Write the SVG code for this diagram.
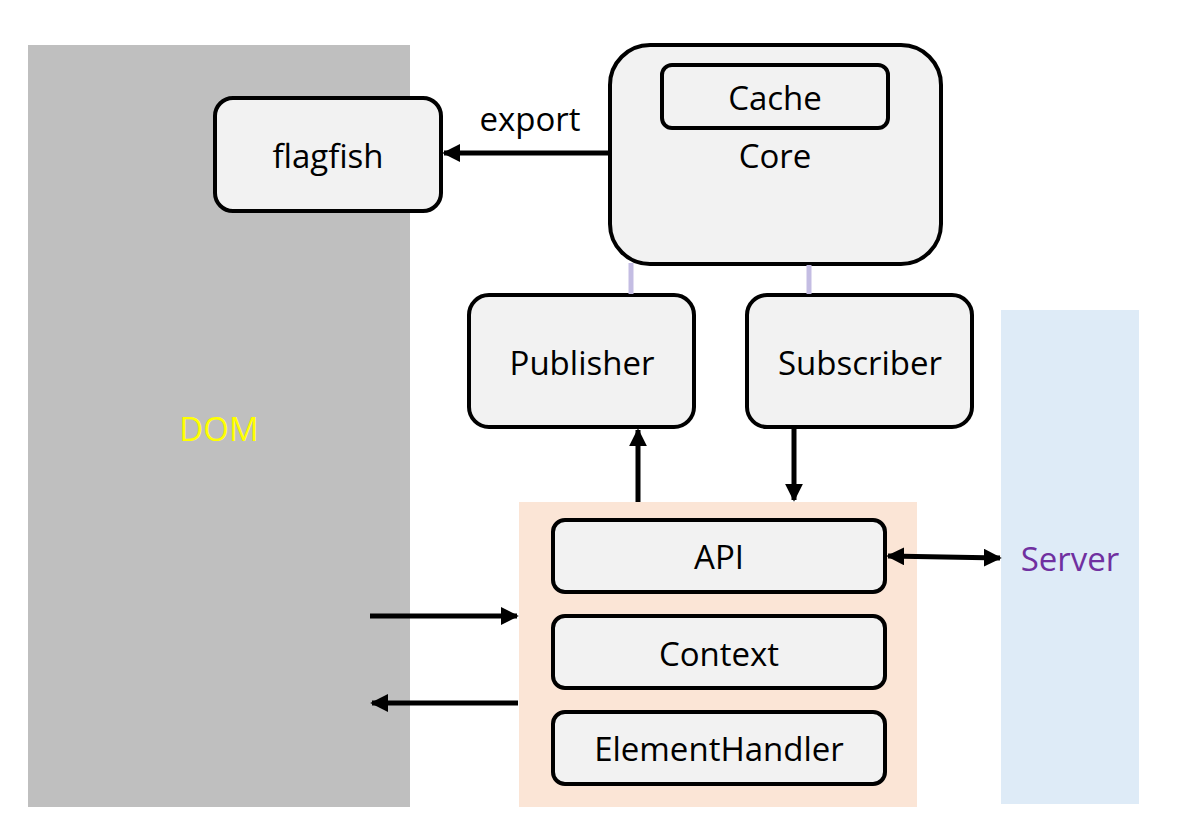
<svg xmlns="http://www.w3.org/2000/svg" width="1178" height="834" viewBox="0 0 1178 834">
<defs>
<style>
.box{fill:#f2f2f2;stroke:#000;stroke-width:4}
.t{font-family:"Open Sans","Noto Sans",sans-serif;font-size:33px;fill:#000;text-anchor:middle;dominant-baseline:central}
.c{stroke:#000;stroke-width:5;fill:none}
.lav{stroke:#c4bde3;stroke-width:5}
</style>
<marker id="ah" viewBox="0 0 10 10" refX="9" refY="5" markerWidth="3.6" markerHeight="3.6" orient="auto-start-reverse" markerUnits="strokeWidth">
<path d="M0,0 L10,5 L0,10 Z" fill="#000"/>
</marker>
</defs>
<rect width="1178" height="834" fill="#fff"/>
<g id="dom">
<rect x="28" y="45" width="382" height="762" fill="#bfbfbf"/>
<text class="t" x="219" y="428" style="fill:#ffff00">DOM</text>
</g>
<g id="server">
<rect x="1001" y="310" width="138" height="494" fill="#deebf7"/>
<text class="t" x="1070" y="558" style="fill:#7030a0">Server</text>
</g>
<g id="module">
<rect x="519" y="502" width="398" height="305" fill="#fbe5d6"/>
</g>
<g id="flagfish">
<rect class="box" x="215" y="98" width="226" height="113" rx="18"/>
<text class="t" x="328" y="155">flagfish</text>
</g>
<g id="core">
<rect class="box" x="610" y="45" width="331" height="219" rx="40"/>
<text class="t" x="775" y="155">Core</text>
</g>
<g id="cache">
<rect class="box" x="662" y="65" width="226" height="63" rx="10"/>
<text class="t" x="775" y="97">Cache</text>
</g>
<g id="publisher">
<rect class="box" x="469" y="295" width="225" height="132" rx="20"/>
<text class="t" x="582" y="362">Publisher</text>
</g>
<g id="subscriber">
<rect class="box" x="747" y="295" width="225" height="132" rx="20"/>
<text class="t" x="860" y="362">Subscriber</text>
</g>
<g id="api">
<rect class="box" x="553" y="520" width="332" height="72" rx="12"/>
<text class="t" x="719" y="556">API</text>
</g>
<g id="context">
<rect class="box" x="553" y="616" width="332" height="72" rx="12"/>
<text class="t" x="719" y="653">Context</text>
</g>
<g id="elementhandler">
<rect class="box" x="553" y="712" width="332" height="72" rx="12"/>
<text class="t" x="719" y="748">ElementHandler</text>
</g>
<g id="connectors">
<line class="c" x1="610" y1="153" x2="444" y2="153" marker-end="url(#ah)"/>
<text class="t" x="530" y="118">export</text>
<line class="lav" x1="631" y1="263" x2="631" y2="294"/>
<line class="lav" x1="809" y1="265" x2="809" y2="294"/>
<line class="c" x1="638" y1="502" x2="638" y2="430" marker-end="url(#ah)"/>
<line class="c" x1="794" y1="429" x2="794" y2="500" marker-end="url(#ah)"/>
<line class="c" x1="888" y1="556" x2="1000" y2="558" marker-start="url(#ah)" marker-end="url(#ah)"/>
<line class="c" x1="370" y1="616" x2="517" y2="616" marker-end="url(#ah)"/>
<line class="c" x1="518" y1="703" x2="372" y2="703" marker-end="url(#ah)"/>
</g>
</svg>
